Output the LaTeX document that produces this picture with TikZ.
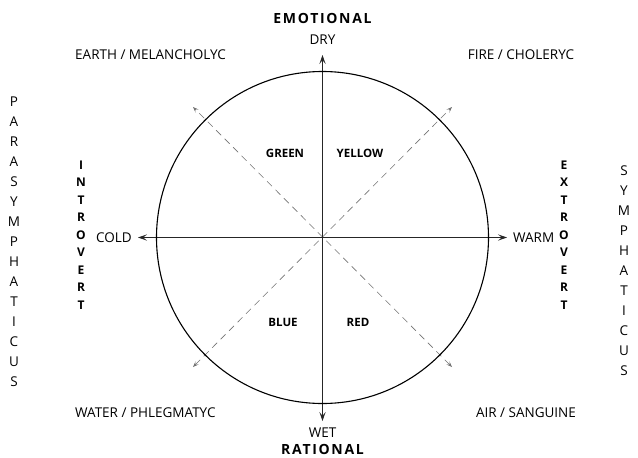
\documentclass[tikz,border=0pt]{standalone}
\usepackage{fontspec}
\setmainfont{Open Sans}
\usetikzlibrary{arrows.meta}

\begin{document}
\begin{tikzpicture}[x=1pt,y=-1pt,
  axis/.style={{Stealth[length=3.2mm,width=2.2mm,inset=1.4mm]}-{Stealth[length=3.2mm,width=2.2mm,inset=1.4mm]},black!85,line width=0.8pt},
  diag/.style={{Stealth[length=2mm,width=1.5mm,inset=0.8mm]}-{Stealth[length=2mm,width=1.5mm,inset=0.8mm]},black!55,line width=0.6pt,dash pattern=on 7pt off 5pt},
  lbl/.style={font=\fontsize{13.5}{15}\selectfont,inner sep=0pt},
  pole/.style={font=\bfseries\fontsize{14}{16}\selectfont\addfontfeature{LetterSpace=12},inner sep=0pt},
  colr/.style={font=\bfseries\fontsize{11.5}{13}\selectfont,inner sep=0pt},
  stack/.style={align=center,inner sep=0pt,font=\fontsize{13.5}{20}\selectfont},
  bstack/.style={align=center,inner sep=0pt,font=\bfseries\fontsize{12}{17.5}\selectfont}]
\useasboundingbox (0,0) rectangle (638,458);
\coordinate (O) at (322.5,237.5);
\coordinate (dry) at (322.5,55);   \coordinate (wet) at (322.5,421);
\coordinate (cold) at (138,237.5); \coordinate (warm) at (507,237.5);
\coordinate (ne) at (452,107); \coordinate (sw) at (193,367);
\coordinate (nw) at (193,107); \coordinate (se) at (452,367);
% crossing lines
\draw[diag] (sw) -- (ne);
\draw[diag] (se) -- (nw);
\draw[axis] (wet) -- (dry);
\draw[axis] (cold) -- (warm);
\draw[black,line width=1.1pt] (O) circle (166);
% axis labels
\node[pole] (emo) at (322.5,18) {EMOTIONAL};
\node[lbl] (dryl) at (322.5,40) {DRY};
\node[lbl] (wetl) at (322.5,433) {WET};
\node[pole] (rat) at (322.5,449) {RATIONAL};
\node[lbl,anchor=east] (coldl) at (132,237.5) {COLD};
\node[lbl,anchor=west] (warml) at (513,237.5) {WARM};
% elements
\node[lbl,anchor=west] (earth) at (75,55) {EARTH / MELANCHOLYC};
\node[lbl] (fire) at (521,55) {FIRE / CHOLERYC};
\node[lbl,anchor=west] (water) at (75,413) {WATER / PHLEGMATYC};
\node[lbl] (air) at (526,413) {AIR / SANGUINE};
\node[colr] (green) at (285,153) {GREEN};
\node[colr] (yellow) at (360,153) {YELLOW};
\node[colr] (blue) at (283,322) {BLUE};
\node[colr] (red) at (358,322) {RED};
% vertical words
\node[bstack] (intro) at (81,235) {I\\N\\T\\R\\O\\V\\E\\R\\T};
\node[bstack] (extro) at (564,235) {E\\X\\T\\R\\O\\V\\E\\R\\T};
\node[stack] (para) at (14,242) {P\\A\\R\\A\\S\\Y\\M\\P\\H\\A\\T\\I\\C\\U\\S};
\node[stack] (sym) at (624,271) {S\\Y\\M\\P\\H\\A\\T\\I\\C\\U\\S};
\end{tikzpicture}
\end{document}
